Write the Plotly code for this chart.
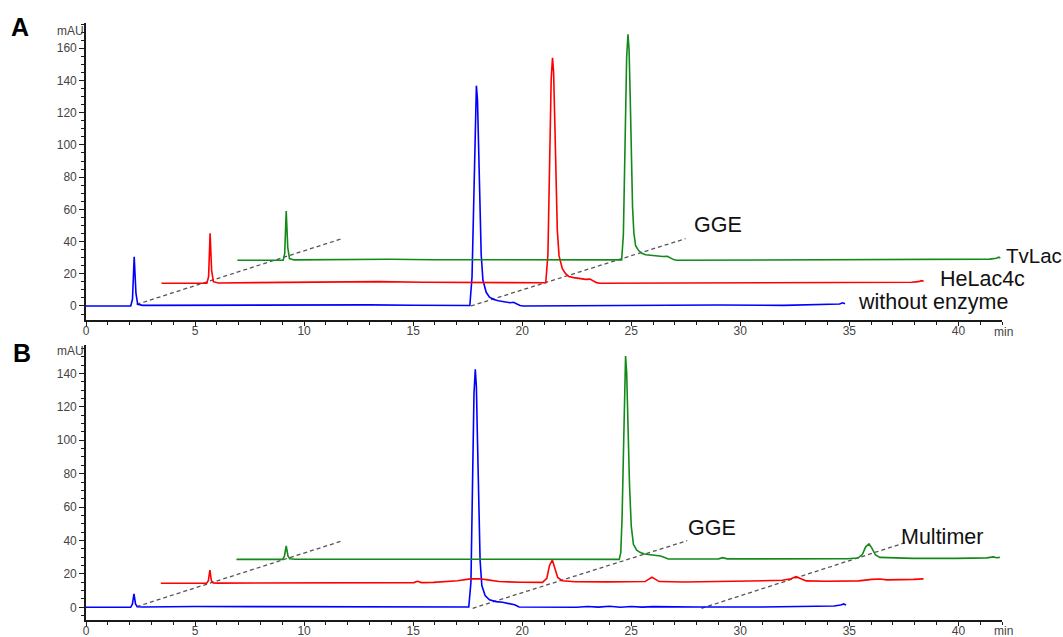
import plotly.graph_objects as go

# ---------------- data (raw retention time in min, absorbance in mAU) ----------------
# Panel A
A_blue_t = [0.0, 2.05, 2.13, 2.21, 2.29, 2.37, 2.6, 5.0, 8.0, 10.0, 13.0, 15.0, 17.2, 17.6, 17.7, 17.78, 17.85, 17.9,
            17.95, 18.0, 18.06, 18.12, 18.2, 18.35, 18.5, 18.7, 18.9, 19.2, 19.45, 19.6, 19.75, 19.9, 20.05, 23.0,
            26.0, 29.0, 32.0, 34.2, 34.55, 34.7, 34.8]
A_blue_v = [0.0, 0.0, 4.0, 30.5, 8.0, 1.0, 0.4, 0.5, 0.8, 0.6, 0.7, 0.5, 0.4, 0.3, 18, 72, 124, 136.8,
            128, 100, 60, 32, 16, 8.5, 5.5, 4.0, 3.3, 2.7, 2.0, 2.3, 1.4, 0.3, 0.0, 0.3,
            0.5, 0.6, 0.4, 0.8, 1.2, 2.0, 1.4]

A_red_t = [0.0, 2.08, 2.16, 2.23, 2.30, 2.38, 2.6, 5.0, 8.0, 10.0, 12.0, 15.0, 17.3, 17.62, 17.72, 17.8, 17.87, 17.93,
           17.98, 18.03, 18.09, 18.15, 18.23, 18.38, 18.53, 18.68, 18.9, 19.2, 19.45, 19.65, 19.8, 19.95, 20.1, 24.0,
           28.0, 31.0, 33.5, 34.4, 34.7, 34.85, 34.95]
A_red_v = [0.0, 0.0, 4.0, 31.0, 8.0, 1.0, 0.2, 0.5, 0.9, 1.0, 0.6, 0.3, 0.2, 0.3, 18, 74, 127, 140,
           131, 103, 62, 33, 17, 9, 6, 4.2, 3.5, 2.8, 2.4, 2.6, 1.5, 0.4, 0.0, 0.1,
           0.2, 0.2, 0.3, 0.6, 1.0, 1.6, 1.2]

A_green_t = [0.0, 2.1, 2.17, 2.24, 2.31, 2.39, 2.6, 5.0, 6.5, 7.0, 9.0, 12.0, 15.0, 17.62, 17.7, 17.78, 17.85, 17.91,
             17.96, 18.01, 18.06, 18.12, 18.18, 18.26, 18.4, 18.55, 18.72, 18.95, 19.25, 19.5, 19.72, 19.85, 20.0,
             20.15, 24.0, 28.0, 31.0, 33.5, 34.5, 34.8, 34.92, 34.98]
A_green_v = [0.0, 0.0, 4.0, 30.6, 8.0, 1.0, 0.2, 0.3, 0.8, 0.6, 0.3, 0.2, 0.2, 0.2, 16, 72, 126, 140.3,
             131, 103, 62, 33, 17, 9, 6, 4.3, 3.4, 3.0, 2.6, 2.3, 2.5, 1.5, 0.4,
             0.0, 0.1, 0.2, 0.3, 0.4, 0.7, 1.2, 1.9, 1.3]

# Panel B
B_blue_t = [0.0, 2.05, 2.13, 2.2, 2.27, 2.35, 2.6, 5.0, 8.0, 11.0, 14.0, 16.0, 17.2, 17.55, 17.65, 17.72, 17.79,
            17.85, 17.9, 17.95, 18.01, 18.07, 18.15, 18.3, 18.5, 18.8, 19.1, 19.35, 19.48, 19.65, 19.86, 21.0,
            22.0, 22.5, 23.0, 23.5, 24.0, 24.5, 25.0, 25.5, 26.0, 27.0, 28.0, 31.0, 33.5, 34.3, 34.6, 34.75, 34.85]
B_blue_v = [0.0, 0.0, 2.0, 8.0, 2.0, 0.3, 0.2, 0.5, 0.4, 0.3, 0.3, 0.3, 0.3, 0.2, 15, 70, 128,
            142.4, 132, 100, 55, 28, 13, 7, 4.5, 3.4, 3.0, 2.5, 2.0, 1.5, 0.2, 0.2,
            0.4, 0.0, 0.5, 0.1, 0.6, 0.0, 0.5, 0.1, 0.4, 0.2, 0.2, 0.2, 0.4, 0.8, 1.4, 2.0, 1.3]

B_red_t = [0.0, 2.1, 2.18, 2.25, 2.32, 2.4, 2.6, 5.0, 8.0, 11.0, 11.6, 11.77, 11.95, 12.5, 13.6, 14.2, 14.6, 15.0,
           15.5, 16.5, 17.5, 17.7, 17.82, 17.95, 18.08, 18.2, 18.4, 19.0, 20.5, 22.2, 22.4, 22.52, 22.65, 22.85,
           24.0, 25.5, 27.0, 28.5, 28.9, 29.12, 29.35, 29.6, 30.5, 32.0, 32.6, 32.97, 33.3, 33.8, 34.5, 34.97]
B_red_v = [0.0, 0.0, 1.5, 7.9, 1.5, 0.2, 0.1, 0.2, 0.3, 0.3, 0.4, 1.2, 0.4, 0.5, 1.5, 2.6, 2.7, 2.0,
           1.0, 0.6, 0.5, 3.0, 10.5, 13.9, 9.0, 3.5, 1.5, 0.9, 0.8, 1.0, 2.6, 3.6, 2.6, 1.0,
           0.7, 0.9, 1.3, 1.8, 2.7, 3.9, 2.6, 1.4, 1.2, 1.4, 2.3, 2.5, 2.0, 2.0, 2.3, 2.6]

B_green_t = [0.0, 2.12, 2.2, 2.28, 2.36, 2.44, 2.7, 5.0, 8.0, 11.0, 14.0, 16.5, 17.55, 17.62, 17.68, 17.74, 17.8,
             17.84, 17.89, 17.95, 18.02, 18.1, 18.2, 18.35, 18.5, 18.7, 19.0, 19.3, 19.44, 19.6, 19.8, 21.0,
             22.1, 22.3, 22.5, 24.0, 26.0, 28.0, 28.5, 28.7, 28.85, 29.0, 29.12, 29.3, 29.5, 30.0, 31.0, 33.0,
             34.4, 34.7, 34.85, 35.0]
B_green_v = [0.0, 0.0, 2.0, 8.0, 2.0, 0.3, 0.1, 0.1, 0.1, 0.1, 0.1, 0.0, 0.0, 4.0, 25, 62, 100,
             121.7, 112, 80, 45, 20, 9, 5.5, 4.2, 3.2, 2.8, 2.2, 2.0, 1.3, 0.2, 0.2,
             0.3, 1.0, 0.3, 0.3, 0.3, 0.4, 0.8, 3.0, 7.5, 9.2, 7.0, 2.6, 1.2, 0.9, 0.6, 0.6,
             0.9, 1.5, 1.0, 1.2]

# stacked-view offsets (min, mAU) for each trace
A_offsets = {"blue": (0.0, 0.0), "red": (3.46, 14.1), "green": (6.94, 28.4)}
B_offsets = {"blue": (0.0, 0.0), "red": (3.43, 14.4), "green": (6.90, 28.7)}

# dashed guide lines (start / end points in displayed min, mAU)
A_guides = [([2.32, 11.78], [1.0, 42.0]), ([17.65, 27.49], [0.0, 41.8])]
B_guides = [([2.32, 11.78], [0.4, 39.9]), ([17.73, 27.57], [-0.6, 39.9]), ([28.22, 37.56], [-0.6, 38.7])]

x_ticks = [0, 5, 10, 15, 20, 25, 30, 35, 40]
A_y_ticks = [0, 20, 40, 60, 80, 100, 120, 140, 160]
B_y_ticks = [0, 20, 40, 60, 80, 100, 120, 140]

# ---------------- figure ----------------
W, H = 1063, 637
COL = {"blue": "#0000FF", "red": "#FF0000", "green": "#13891A"}
FONT = "Liberation Sans, Arial, sans-serif"

fig = go.Figure()

panels = [
    ("x", "y", A_offsets, [("blue", A_blue_t, A_blue_v), ("red", A_red_t, A_red_v), ("green", A_green_t, A_green_v)], A_guides),
    ("x2", "y2", B_offsets, [("blue", B_blue_t, B_blue_v), ("red", B_red_t, B_red_v), ("green", B_green_t, B_green_v)], B_guides),
]

for xa, ya, offs, traces, guides in panels:
    for gx, gy in guides:
        fig.add_trace(go.Scatter(x=gx, y=gy, mode="lines", xaxis=xa, yaxis=ya,
                                 line=dict(color="#555555", width=1.3, dash="4px,3px"),
                                 showlegend=False, hoverinfo="skip"))
    for name, t, v in traces:
        dx, dy = offs[name]
        fig.add_trace(go.Scatter(x=[ti + dx for ti in t], y=[vi + dy for vi in v], mode="lines",
                                 xaxis=xa, yaxis=ya, line=dict(color=COL[name], width=1.6),
                                 showlegend=False, hoverinfo="skip", cliponaxis=False))

def px_x(p):
    return p / W

def px_y(p):
    return 1 - p / H

xdom = [px_x(86), px_x(1002)]
tickfont = dict(family=FONT, size=12, color="#444444")

def xaxis_def(anchor):
    return dict(domain=xdom, range=[0, 42.0], anchor=anchor, showgrid=False, zeroline=False,
                showline=True, linecolor="#1a1a1a", linewidth=1.6, ticks="outside", ticklen=4,
                tickwidth=1.4, tickcolor="#1a1a1a", tickvals=x_ticks, tickfont=tickfont,
                ticklabelstandoff=-5,
                minor=dict(dtick=1, ticks="outside", ticklen=3, tickcolor="#1a1a1a", tickwidth=1.2),
                automargin=False, fixedrange=True)

def yaxis_def(anchor, dom, rng, tv):
    return dict(domain=dom, range=rng, anchor=anchor, showgrid=False, zeroline=False,
                showline=True, linecolor="#1a1a1a", linewidth=1.6, ticks="outside", ticklen=5,
                tickwidth=1.4, tickcolor="#1a1a1a", tickvals=tv, tickfont=tickfont,
                minor=dict(dtick=5, ticks="outside", ticklen=3, tickcolor="#1a1a1a", tickwidth=1.2),
                automargin=False, fixedrange=True)

fig.update_layout(
    width=W, height=H, margin=dict(l=0, r=0, t=0, b=0),
    paper_bgcolor="white", plot_bgcolor="white",
    xaxis=xaxis_def("y"),
    yaxis=yaxis_def("x", [px_y(320), px_y(23)], [-8.7, 175.7], A_y_ticks),
    xaxis2=xaxis_def("y2"),
    yaxis2=yaxis_def("x2", [px_y(620), px_y(345)], [-7.6, 157.0], B_y_ticks),
)

labfont = dict(family=FONT, size=21.5, color="#111111")
ann = []
# trace / peak labels in data coordinates
for xa, ya, txt, x, y in [
    ("x", "y", "GGE", 27.83, 50.3),
    ("x", "y", "HeLac4c", 39.1, 16.8),
    ("x", "y", "without enzyme", 35.34, 2.7),
    ("x2", "y2", "GGE", 27.56, 47.4),
    ("x2", "y2", "Multimer", 37.32, 42.1),
]:
    ann.append(dict(xref=xa, yref=ya, x=x, y=y, text=txt, showarrow=False, xanchor="left",
                    yanchor="middle", font=labfont, borderpad=0))
# label placed past the right end of the axis (paper coordinates)
ann.append(dict(xref="paper", yref="paper", x=px_x(1005), y=px_y(255), text="TvLac", showarrow=False,
                xanchor="left", yanchor="middle", borderpad=0,
                font=dict(family=FONT, size=20.5, color="#111111")))
# panel letters
for txt, xp, yp in [("A", 10, 27), ("B", 12, 353)]:
    ann.append(dict(xref="paper", yref="paper", x=px_x(xp), y=px_y(yp), text="<b>%s</b>" % txt,
                    showarrow=False, xanchor="left", yanchor="middle",
                    font=dict(family=FONT, size=25, color="#000000"), borderpad=0))
# axis unit labels
for yp in [31, 351]:
    ann.append(dict(xref="paper", yref="paper", x=px_x(85), y=px_y(yp), text="mAU", showarrow=False,
                    xanchor="right", yanchor="middle", font=tickfont, borderpad=0))
for yp in [332, 631]:
    ann.append(dict(xref="paper", yref="paper", x=px_x(1003), y=px_y(yp), text="min", showarrow=False,
                    xanchor="center", yanchor="middle", font=tickfont, borderpad=0))
fig.update_layout(annotations=ann)

fig.write_html("out.html", config={"displayModeBar": False},
               post_script="document.body.style.margin='0';document.body.style.padding='0';"
                           "document.body.style.overflow='hidden';")
